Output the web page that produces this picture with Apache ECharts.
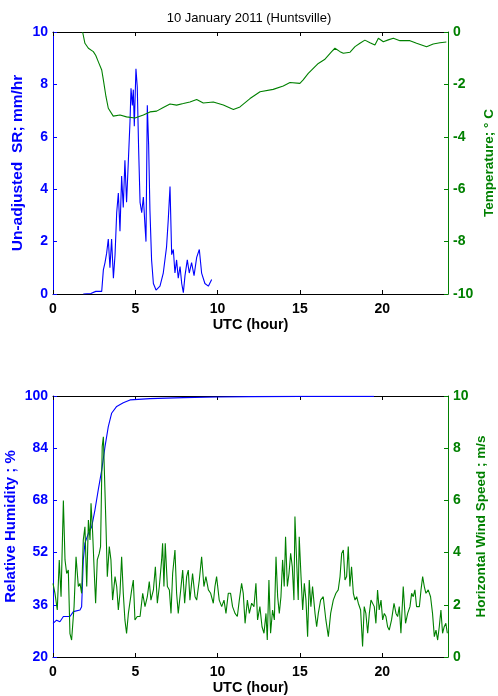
<!DOCTYPE html>
<html>
<head>
<meta charset="utf-8">
<script src="https://cdn.jsdelivr.net/npm/echarts@6/dist/echarts.min.js"></script>
<style>html,body{margin:0;padding:0;background:#fff;}#c{width:498px;height:696px;}</style>
</head>
<body>
<div id="c"></div>
<script>
var titleText = '10 January 2011 (Huntsville)';
var xTicks = [0, 5, 10, 15, 20];
var srTicks = [0, 2, 4, 6, 8, 10];
var tempTicks = [-10, -8, -6, -4, -2, 0];
var rhTicks = [20, 36, 52, 68, 84, 100];
var wsTicks = [0, 2, 4, 6, 8, 10];

// [UTC hour, SR mm/hr]
var srPoints = [[1.84,0],[2.3,0.02],[2.6,0.1],[2.96,0.1],[3.06,0.92],[3.16,1.2],[3.26,1.56],[3.36,2.1],[3.46,1.0],[3.56,2.1],[3.67,0.6],[3.77,1.5],[3.87,3.1],[3.97,3.85],[4.07,2.4],[4.17,4.5],[4.27,3.3],[4.37,5.1],[4.47,3.5],[4.58,5.1],[4.68,6.6],[4.74,7.85],[4.82,7.2],[4.88,7.8],[4.94,6.4],[5.04,8.6],[5.12,7.9],[5.2,5.6],[5.29,3.5],[5.39,3.1],[5.49,3.7],[5.59,2.6],[5.65,2.0],[5.73,7.2],[5.81,5.7],[5.89,3.2],[5.99,1.3],[6.1,0.4],[6.26,0.15],[6.5,0.3],[6.7,0.8],[6.9,1.8],[7.0,2.8],[7.11,4.1],[7.21,1.5],[7.31,1.7],[7.41,0.8],[7.51,1.3],[7.61,0.6],[7.72,1.05],[7.82,0.4],[7.92,0.05],[8.02,0.7],[8.16,1.3],[8.28,0.8],[8.42,1.2],[8.57,0.7],[8.73,1.4],[8.89,1.7],[9.03,0.8],[9.23,0.4],[9.44,0.3],[9.64,0.55]];

// [UTC hour, temperature deg C]
var tempPoints = [[1.8,0],[1.94,-0.43],[2.15,-0.62],[2.45,-0.75],[2.6,-0.9],[2.75,-1.13],[2.96,-1.45],[3.06,-1.83],[3.22,-2.47],[3.36,-2.91],[3.66,-3.21],[4.07,-3.17],[4.47,-3.24],[4.98,-3.28],[5.49,-3.17],[5.89,-3.05],[6.3,-3.02],[6.7,-2.88],[7.11,-2.75],[7.51,-2.79],[7.92,-2.73],[8.32,-2.67],[8.73,-2.58],[9.13,-2.71],[9.74,-2.67],[10.35,-2.79],[10.96,-2.96],[11.36,-2.86],[11.97,-2.54],[12.58,-2.28],[13.38,-2.19],[13.99,-2.06],[14.4,-1.93],[15.0,-1.96],[15.2,-1.83],[15.51,-1.58],[16.12,-1.2],[16.5,-1.05],[16.93,-0.75],[17.13,-0.62],[17.44,-0.75],[17.64,-0.81],[18.05,-0.77],[18.35,-0.56],[18.65,-0.43],[18.95,-0.31],[19.26,-0.41],[19.56,-0.5],[19.77,-0.24],[20.07,-0.37],[20.37,-0.3],[20.68,-0.24],[21.08,-0.33],[21.69,-0.33],[22.09,-0.43],[22.7,-0.56],[23.1,-0.46],[23.51,-0.41],[23.9,-0.38]];

// [UTC hour, relative humidity %]
var rhPoints = [[0,30.3],[0.22,31.3],[0.42,30.8],[0.63,32.4],[1.03,32.4],[1.24,33.9],[1.64,34.4],[1.74,35.4],[1.84,49.7],[1.94,54.9],[2.15,57.9],[2.35,59.9],[2.55,65.1],[2.75,71.2],[2.86,70.8],[2.96,77.3],[3.16,84.5],[3.36,90.6],[3.56,94.7],[3.87,96.8],[4.27,97.9],[4.68,98.8],[5.89,99.2],[7.92,99.5],[10,99.7],[12,99.8],[15,99.9],[19.5,99.9]];

// [UTC hour, wind speed m/s]
var wsPoints = [[0,2.82],[0.12,2.44],[0.26,1.8],[0.38,3.72],[0.49,2.31],[0.63,6.0],[0.73,3.72],[0.83,3.2],[0.93,3.33],[1.03,0.9],[1.13,0.65],[1.28,1.93],[1.4,3.84],[1.54,2.7],[1.64,2.82],[1.74,2.44],[1.84,4.48],[1.94,4.99],[2.05,2.7],[2.15,5.25],[2.25,4.48],[2.31,5.89],[2.41,4.74],[2.51,3.2],[2.59,2.06],[2.69,3.72],[2.81,3.97],[2.89,4.23],[2.99,8.06],[3.06,8.44],[3.12,7.16],[3.22,5.0],[3.3,3.08],[3.42,4.23],[3.52,3.72],[3.62,2.18],[3.77,3.08],[3.87,2.7],[3.97,1.8],[4.07,2.44],[4.17,3.84],[4.27,2.44],[4.37,1.42],[4.47,0.9],[4.58,1.67],[4.68,1.67],[4.78,2.57],[4.88,2.95],[4.98,1.42],[5.12,1.55],[5.29,1.55],[5.45,2.44],[5.59,1.93],[5.73,2.31],[5.85,2.89],[5.95,2.18],[6.1,2.57],[6.22,3.46],[6.34,2.06],[6.46,2.7],[6.6,3.72],[6.66,4.36],[6.74,2.7],[6.82,4.36],[6.95,2.7],[7.07,2.57],[7.17,1.67],[7.27,3.2],[7.41,4.1],[7.51,2.44],[7.61,1.67],[7.76,2.57],[7.88,3.33],[8.0,2.06],[8.12,3.08],[8.22,3.33],[8.32,2.18],[8.48,3.2],[8.63,2.31],[8.73,2.18],[8.89,2.95],[9.03,3.84],[9.17,2.7],[9.29,3.08],[9.44,2.57],[9.58,2.44],[9.74,2.06],[9.84,2.7],[9.94,3.08],[10.1,2.18],[10.25,1.93],[10.39,2.18],[10.51,1.67],[10.65,2.44],[10.79,2.44],[10.91,1.93],[11.06,1.67],[11.2,1.55],[11.32,2.18],[11.46,2.82],[11.56,2.44],[11.67,1.29],[11.81,2.18],[11.93,1.67],[12.07,2.06],[12.21,1.93],[12.33,2.82],[12.43,1.42],[12.57,1.93],[12.7,1.16],[12.82,0.91],[12.94,1.67],[13.02,0.65],[13.12,2.95],[13.22,0.91],[13.34,1.8],[13.45,1.42],[13.55,3.84],[13.65,2.31],[13.75,1.67],[13.85,2.31],[13.95,3.72],[14.05,2.7],[14.13,4.61],[14.24,2.7],[14.34,3.2],[14.44,3.97],[14.54,3.46],[14.64,2.18],[14.7,5.38],[14.8,3.72],[14.9,2.18],[14.96,4.61],[15.07,3.08],[15.17,1.8],[15.27,2.82],[15.37,2.18],[15.47,0.78],[15.57,2.95],[15.67,1.93],[15.77,2.7],[15.92,1.67],[16.02,1.16],[16.12,1.67],[16.26,2.18],[16.42,2.31],[16.58,1.42],[16.73,0.78],[16.87,1.67],[17.03,2.18],[17.19,2.44],[17.33,2.57],[17.44,3.08],[17.54,3.97],[17.64,4.1],[17.74,2.95],[17.84,3.08],[17.94,4.23],[18.04,2.7],[18.14,3.46],[18.25,2.44],[18.35,2.18],[18.45,2.31],[18.55,2.06],[18.69,1.8],[18.81,0.4],[18.91,1.93],[19.01,1.67],[19.12,0.91],[19.22,1.67],[19.32,2.18],[19.42,2.25],[19.52,1.93],[19.62,1.29],[19.72,2.57],[19.82,1.8],[19.93,2.18],[20.03,1.42],[20.13,1.67],[20.23,1.55],[20.33,1.16],[20.43,1.03],[20.57,1.42],[20.72,2.06],[20.84,1.67],[20.94,1.55],[21.04,1.93],[21.14,0.91],[21.28,2.7],[21.42,1.29],[21.55,1.67],[21.69,1.93],[21.79,2.44],[21.89,2.31],[21.99,2.57],[22.09,1.93],[22.26,1.93],[22.36,2.57],[22.46,3.08],[22.56,2.7],[22.66,2.44],[22.8,2.57],[22.94,2.31],[23.06,1.67],[23.17,0.78],[23.27,1.03],[23.37,0.65],[23.47,1.16],[23.57,1.8],[23.67,0.91],[23.77,1.16],[23.87,1.29],[23.96,0.91]];

var BLUE = '#0000ff', GREEN = '#008000', FONT = '"Liberation Sans", Arial, sans-serif';

function xAxisBottom(gi) {
  return {
    type: 'value', gridIndex: gi, min: 0, max: 24, position: 'bottom',
    name: 'UTC (hour)', nameLocation: 'middle', nameGap: 23, nameMoveOverlap: false,
    nameTextStyle: {color: '#000', fontWeight: 'bold', fontSize: 14.5, fontFamily: FONT},
    axisLine: {show: true, onZero: false, lineStyle: {color: '#000', width: 1}},
    axisTick: {show: true, inside: true, length: 4, customValues: xTicks, lineStyle: {color: '#000'}},
    axisLabel: {show: true, customValues: xTicks, margin: 8, color: '#000', fontWeight: 'bold', fontSize: 14, fontFamily: FONT},
    splitLine: {show: false}
  };
}
function xAxisTop(gi) {
  return {
    type: 'value', gridIndex: gi, min: 0, max: 24, position: 'top',
    axisLine: {show: true, onZero: false, lineStyle: {color: '#000', width: 1}},
    axisTick: {show: true, inside: true, length: 4, customValues: xTicks, lineStyle: {color: '#000'}},
    axisLabel: {show: false},
    splitLine: {show: false}
  };
}
function yAxis(gi, pos, min, max, interval, ticks, color, name, gap, nameSize) {
  return {
    type: 'value', gridIndex: gi, position: pos, min: min, max: max, interval: interval,
    name: name, nameLocation: 'middle', nameGap: gap, nameRotate: 90, nameMoveOverlap: false,
    nameTextStyle: {color: color, fontWeight: 'bold', fontSize: nameSize, fontFamily: FONT},
    axisLine: {show: true, onZero: false, lineStyle: {color: color, width: 1}},
    axisTick: {show: true, inside: true, length: 4, lineStyle: {color: color}},
    axisLabel: {show: true, margin: 5, color: color, fontWeight: 'bold', fontSize: 14, fontFamily: FONT},
    splitLine: {show: false}
  };
}

var chart = echarts.init(document.getElementById('c'), null, {renderer: 'canvas'});
chart.setOption({
  animation: false,
  backgroundColor: '#fff',
  title: {text: titleText, left: 'center', top: 7, textStyle: {fontSize: 13, fontWeight: 'normal', color: '#000', fontFamily: FONT}},
  grid: [
    {left: 53, right: 50, top: 32, height: 262, outerBoundsMode: 'none'},
    {left: 53, right: 50, top: 396, height: 261, outerBoundsMode: 'none'}
  ],
  xAxis: [xAxisBottom(0), xAxisTop(0), xAxisBottom(1), xAxisTop(1)],
  yAxis: [
    yAxis(0, 'left', 0, 10, 2, srTicks, BLUE, 'Un-adjusted  SR; mm/hr', 27, 15.5),
    yAxis(0, 'right', -10, 0, 2, tempTicks, GREEN, 'Temperature; \u00b0 C', 34, 13.5),
    yAxis(1, 'left', 20, 100, 16, rhTicks, BLUE, 'Relative Humidity ; %', 35, 15),
    yAxis(1, 'right', 0, 10, 2, wsTicks, GREEN, 'Horizontal Wind Speed ; m/s', 26, 13.5)
  ],
  series: [
    {type: 'line', xAxisIndex: 0, yAxisIndex: 0, data: srPoints, showSymbol: false, symbol: 'none', lineStyle: {color: BLUE, width: 1.1}, itemStyle: {color: BLUE}},
    {type: 'line', xAxisIndex: 0, yAxisIndex: 1, data: tempPoints, showSymbol: false, symbol: 'none', lineStyle: {color: GREEN, width: 1.1}, itemStyle: {color: GREEN}},
    {type: 'line', xAxisIndex: 2, yAxisIndex: 2, data: rhPoints, showSymbol: false, symbol: 'none', lineStyle: {color: BLUE, width: 1.1}, itemStyle: {color: BLUE}},
    {type: 'line', xAxisIndex: 2, yAxisIndex: 3, data: wsPoints, showSymbol: false, symbol: 'none', lineStyle: {color: GREEN, width: 1.1}, itemStyle: {color: GREEN}}
  ]
});
</script>
</body>
</html>
